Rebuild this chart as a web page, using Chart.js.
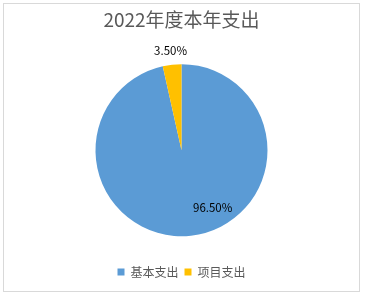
<!DOCTYPE html>
<html>
<head>
<meta charset="utf-8">
<script src="https://cdn.jsdelivr.net/npm/chart.js@4"></script>
<style>
  body { margin: 0; background: #fff; }
  #wrap { position: relative; width: 365px; height: 297px; }
</style>
</head>
<body>
<div id="wrap"><canvas id="pie" width="365" height="297"></canvas></div>
<script>
// data
const titleText = "2022年度本年支出";
const categories = ["基本支出", "项目支出"];
const shares = [96.5, 3.5];
const sliceColors = ["#5B9BD5", "#FFC000"];

const FONT = "'Noto Sans CJK SC', 'Noto Sans', sans-serif";

// frame around the whole chart, like the office chart border
const framePlugin = {
  id: "frame",
  beforeDraw(chart) {
    const ctx = chart.ctx;
    ctx.save();
    ctx.fillStyle = "#fff";
    ctx.fillRect(0, 0, chart.width, chart.height);
    ctx.strokeStyle = "#d9d9d9";
    ctx.lineWidth = 1;
    ctx.strokeRect(3.5, 3.5, 356, 288);
    ctx.restore();
  }
};

// percent labels; placement given as angle/distance per slice
const labelPlugin = {
  id: "pctLabels",
  afterDatasetsDraw(chart, args, opts) {
    const ctx = chart.ctx;
    const meta = chart.getDatasetMeta(0);
    ctx.save();
    ctx.font = "11.5px " + FONT;
    ctx.fillStyle = "#000";
    ctx.textAlign = "center";
    ctx.textBaseline = "middle";
    meta.data.forEach((arc, i) => {
      const p = opts.place[i];
      const mid = (arc.startAngle + arc.endAngle) / 2;
      const ang = p.angle == null ? mid : -Math.PI / 2 + p.angle * Math.PI / 180;
      const r = arc.outerRadius * p.dist;
      const x = arc.x + Math.cos(ang) * r;
      const y = arc.y + Math.sin(ang) * r;
      ctx.fillText(shares[i].toFixed(2) + "%", x, y);
    });
    ctx.restore();
  }
};

new Chart(document.getElementById("pie"), {
  type: "pie",
  data: {
    labels: categories,
    datasets: [{
      data: shares,
      backgroundColor: sliceColors,
      borderWidth: 0,
      radius: 86
    }]
  },
  options: {
    responsive: false,
    animation: false,
    layout: { padding: { left: 0, right: 2, top: 0, bottom: 9 } },
    plugins: {
      title: {
        display: true,
        text: titleText,
        color: "#595959",
        font: { family: FONT, size: 19, weight: "normal" },
        padding: { top: 8.6, bottom: 9 }
      },
      legend: {
        position: "bottom",
        labels: {
          color: "#595959",
          font: { family: FONT, size: 12 },
          boxWidth: 7,
          boxHeight: 7,
          padding: 6
        }
      },
      tooltip: { enabled: false },
      pctLabels: {
        place: [
          { angle: 151.5, dist: 0.76 },
          { angle: null, dist: 1.16 }
        ]
      }
    }
  },
  plugins: [framePlugin, labelPlugin]
});
</script>
</body>
</html>
